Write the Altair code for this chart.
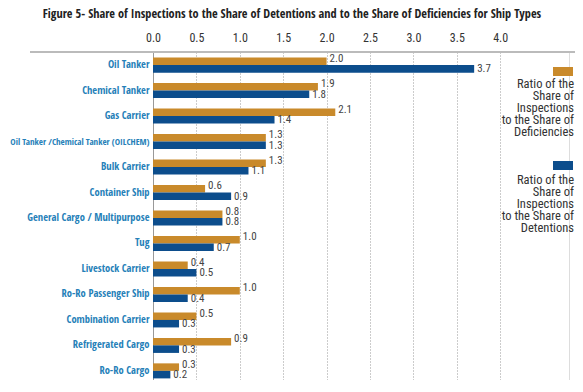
import altair as alt
import pandas as pd

# ---- data ----
ship_types = [
    "Oil Tanker", "Chemical Tanker", "Gas Carrier",
    "Oil Tanker /Chemical Tanker (OILCHEM)", "Bulk Carrier", "Container Ship",
    "General Cargo / Multipurpose", "Tug", "Livestock Carrier",
    "Ro-Ro Passenger Ship", "Combination Carrier", "Refrigerated Cargo", "Ro-Ro Cargo",
]
ratio_deficiencies = [2.0, 1.9, 2.1, 1.3, 1.3, 0.6, 0.8, 1.0, 0.4, 1.0, 0.5, 0.9, 0.3]
ratio_detentions = [3.7, 1.8, 1.4, 1.3, 1.1, 0.9, 0.8, 0.7, 0.5, 0.4, 0.3, 0.3, 0.2]
series_names = ["Deficiencies", "Detentions"]
legend_labels = [
    "Ratio of the\nShare of\nInspections\nto the Share of\nDeficiencies",
    "Ratio of the\nShare of\nInspections\nto the Share of\nDetentions",
]
tick_values = [0.0, 0.5, 1.0, 1.5, 2.0, 2.5, 3.0, 3.5, 4.0]
title_text = ("Figure 5- Share of Inspections to the Share of Detentions "
              "and to the Share of Deficiencies for Ship Types")

ORANGE = "#c98a2b"
BLUE = "#0c4d8c"
FONT_B = "Open Sans Condensed"
FONT_R = "Roboto Condensed"

rows = []
for i, s in enumerate(ship_types):
    rows.append({"ship": s, "series": series_names[0], "value": ratio_deficiencies[i]})
    rows.append({"ship": s, "series": series_names[1], "value": ratio_detentions[i]})
df = pd.DataFrame(rows)

W, H = 416, 328
xscale = alt.Scale(domain=[0, W / 86.8], nice=False)
yscale = alt.Scale(range=[0, 332], paddingInner=0.41, paddingOuter=0.22)
yoff = alt.YOffset("series:N", sort=series_names,
                   scale=alt.Scale(paddingInner=0, paddingOuter=0))

base = alt.Chart(df)

label_size = {"condition": {"test": "length(datum.label) > 30", "value": 9.0}, "value": 10.5}

bars = base.mark_bar().encode(
    y=alt.Y("ship:N", sort=ship_types, scale=yscale, title=None,
            axis=alt.Axis(labelFont=FONT_B, labelFontWeight="bold", labelFontSize=label_size,
                          labelColor="#2580b8", labelPadding=4, ticks=False,
                          domainColor="#999999", domainWidth=1, labelLimit=300)),
    yOffset=yoff,
    x=alt.X("value:Q", scale=xscale, title=None,
            axis=alt.Axis(orient="top", values=tick_values, format=".1f",
                          labelFont=FONT_R, labelFontWeight="normal", labelFontSize=12,
                          labelColor="#333333",
                          labelPadding=8, ticks=False, domain=False,
                          grid=True, gridDash=[1, 2], gridColor="#999999",
                          labelFlush=False)),
    color=alt.Color("series:N", scale=alt.Scale(domain=series_names, range=[ORANGE, BLUE]),
                    legend=None),
)

label_layers = []
for sname, dy in zip(series_names, [-2.5, 0.5]):
    label_layers.append(
        base.transform_filter(alt.datum.series == sname).mark_text(
            align="left", baseline="middle", dx=3, dy=dy, font=FONT_R,
            fontWeight="normal", fontSize=11, color="#444444").encode(
            y=alt.Y("ship:N", sort=ship_types, scale=yscale),
            yOffset=yoff,
            x=alt.X("value:Q", scale=xscale),
            text=alt.Text("value:Q", format=".1f"),
        ))

top_rule = alt.Chart(pd.DataFrame({"a": [0]})).mark_rule(
    color="#bbbbbb", strokeWidth=2).encode(
    x=alt.value(-123), x2=alt.value(W + 6), y=alt.value(0))

title = alt.Chart(pd.DataFrame({"t": [title_text]})).mark_text(
    font=FONT_B, fontWeight="bold", fontSize=12.3, color="#222222",
    align="center", baseline="middle").encode(
    text="t:N", x=alt.value(139), y=alt.value(-38))

legend_layers = []
swatch_y = [15, 109]
text_y = [26, 122]
for lab, col, sy, ty in zip(legend_labels, [ORANGE, BLUE], swatch_y, text_y):
    legend_layers.append(
        alt.Chart(pd.DataFrame({"a": [0]})).mark_rect(color=col).encode(
            x=alt.value(400), x2=alt.value(420), y=alt.value(sy), y2=alt.value(sy + 9)))
    legend_layers.append(
        alt.Chart(pd.DataFrame({"t": [lab]})).mark_text(
            font=FONT_R, fontWeight="normal", fontSize=12.5, color="#333333", align="right",
            baseline="top", lineBreak="\n", lineHeight=12).encode(
            text="t:N", x=alt.value(421), y=alt.value(ty)))

chart = alt.layer(bars, *label_layers, top_rule, title, *legend_layers).properties(
    width=W, height=H,
    autosize=alt.AutoSizeParams(type="none"),
    padding={"left": 145, "top": 44, "right": 6, "bottom": 0},
).configure_view(stroke=None).configure(background="white")

chart.save("out.html", embed_options={"renderer": "svg", "actions": False})
